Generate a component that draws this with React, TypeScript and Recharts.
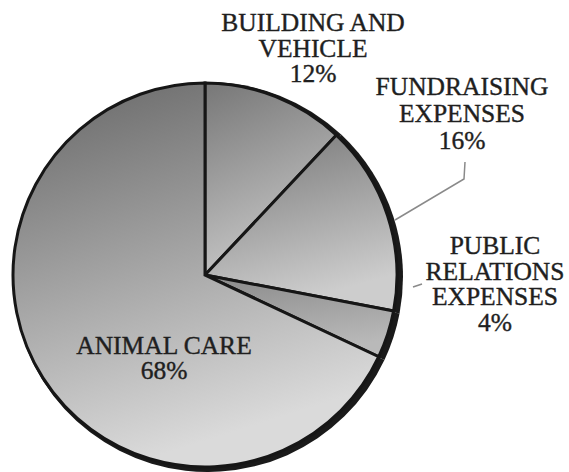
import React from "react";
import { PieChart, Pie, Cell } from "recharts";

// values (percent of expenses)
const categories = [
  "BUILDING AND VEHICLE",
  "FUNDRAISING EXPENSES",
  "PUBLIC RELATIONS EXPENSES",
  "ANIMAL CARE",
];
const shares = [12, 16, 4, 68];
const labelLines = [
  ["BUILDING AND", "VEHICLE"],
  ["FUNDRAISING", "EXPENSES"],
  ["PUBLIC", "RELATIONS", "EXPENSES"],
  ["ANIMAL CARE"],
];

const data = categories.map((name, i) => ({
  name,
  value: shares[i],
  lines: labelLines[i],
}));

const W = 569;
const H = 472;
const CX = 200;
const CY = 270;
const R = 192;

// gradient stops per slice (top colour, bottom colour)
const SHADES: [string, string][] = [
  ["#777777", "#c6c6c6"],
  ["#767676", "#cdcdcd"],
  ["#8a8a8a", "#b9b9b9"],
  ["#666666", "#dadada"],
];

// label placement relative to the pie centre
const LABEL_LAYOUT = [
  { dx: 113, dy: -239, lh: 25.5, leader: null },
  {
    dx: 262,
    dy: -175,
    lh: 27,
    leader: [
      [195, -50],
      [264, -91],
      [265, -108],
    ],
  },
  {
    dx: 295,
    dy: -16,
    lh: 25.7,
    leader: [
      [213, 17],
      [222, 14],
    ],
  },
  { dx: -36, dy: 84, lh: 25, leader: null },
];

const FONT = "Liberation Serif";

// labels are drawn in a plain svg laid over the chart
const Labels = () => (
  <svg
    width={W}
    height={H}
    style={{ position: "absolute", left: 0, top: 0, pointerEvents: "none" }}
  >
    {data.map((d, i) => {
      const lay = LABEL_LAYOUT[i];
      const x = CX + lay.dx;
      const y0 = CY + lay.dy;
      const lines = [...d.lines, `${d.value}%`];
      return (
        <g key={d.name}>
          {lay.leader && (
            <polyline
              points={lay.leader.map(([px, py]) => `${CX + px},${CY + py}`).join(" ")}
              fill="none"
              stroke="#8a8a8a"
              strokeWidth={1.5}
            />
          )}
          <text
            x={x}
            y={y0}
            textAnchor="middle"
            style={{ fontFamily: FONT, fontSize: 25.5 }}
            fill="#1f1f1f"
            stroke="#1f1f1f"
            strokeWidth={0.4}
          >
            {lines.map((ln, j) => (
              <tspan key={j} x={x} y={y0 + j * lay.lh}>
                {ln}
              </tspan>
            ))}
          </text>
        </g>
      );
    })}
  </svg>
);

export default function App() {
  return (
    <div
      style={{
        position: "absolute",
        left: 0,
        top: 0,
        width: W,
        height: H,
        background: "#fff",
      }}
    >
      <PieChart width={W} height={H}>
        <defs>
          {SHADES.map(([a, b], i) => (
            <linearGradient key={i} id={`shade-${i}`} x1="0" y1="0" x2="0.3" y2="1">
              <stop offset="0%" stopColor={a} />
              <stop offset="100%" stopColor={b} />
            </linearGradient>
          ))}
        </defs>
        {/* dark rim / shadow behind the pie */}
        <Pie
          data={data}
          dataKey="value"
          cx={CX + 3}
          cy={CY + 2}
          outerRadius={R + 3}
          startAngle={90}
          endAngle={-270}
          fill="#1a1a1a"
          stroke="none"
          isAnimationActive={false}
          label={false}
          labelLine={false}
        />
        <Pie
          data={data}
          dataKey="value"
          nameKey="name"
          cx={CX}
          cy={CY}
          outerRadius={R}
          startAngle={90}
          endAngle={-270}
          isAnimationActive={false}
          label={false}
          labelLine={false}
        >
          {data.map((entry, index) => (
            <Cell
              key={`cell-${index}`}
              fill={`url(#shade-${index})`}
              stroke="#161616"
              strokeWidth={3}
            />
          ))}
        </Pie>
      </PieChart>
      <Labels />
    </div>
  );
}
